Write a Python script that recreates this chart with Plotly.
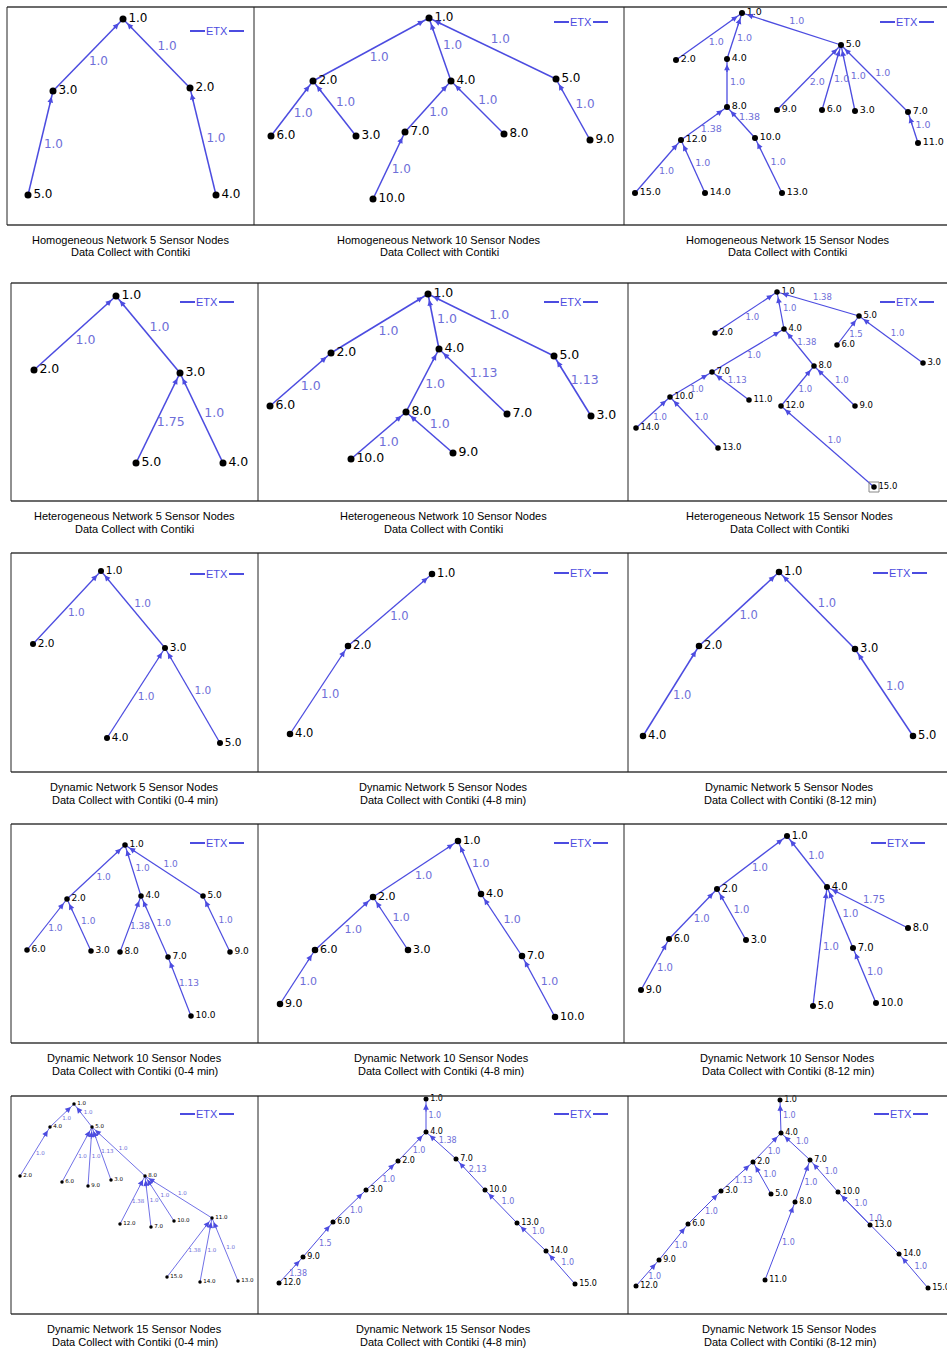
import math
import plotly.graph_objects as go

W, H = 947, 1349

# ---------------------------------------------------------------------------
# Collection trees (node name, canvas position, parent link with ETX metric)
# ---------------------------------------------------------------------------

# Homogeneous network, 5 sensor nodes
H5_NODES = ["1.0", "3.0", "2.0", "5.0", "4.0"]
H5_X = [116, 46, 183, 21, 209]
H5_Y = [12, 84, 81, 188, 188]
H5_CHILD = ["3.0", "2.0", "5.0", "4.0"]
H5_PARENT = ["1.0", "1.0", "3.0", "2.0"]
H5_ETX = [1.0, 1.0, 1.0, 1.0]

# Homogeneous network, 10 sensor nodes
H10_NODES = ["1.0", "2.0", "4.0", "5.0", "6.0", "3.0", "7.0", "8.0", "9.0", "10.0"]
H10_X = [175, 59, 197, 302, 17, 102, 151, 250, 336, 119]
H10_Y = [11, 74, 74, 72, 129, 129, 125, 127, 133, 192]
H10_CHILD = ["2.0", "4.0", "5.0", "6.0", "3.0", "7.0", "8.0", "9.0", "10.0"]
H10_PARENT = ["1.0", "1.0", "1.0", "2.0", "2.0", "4.0", "4.0", "5.0", "7.0"]
H10_ETX = [1.0, 1.0, 1.0, 1.0, 1.0, 1.0, 1.0, 1.0, 1.0]

# Homogeneous network, 15 sensor nodes
H15_NODES = ["1.0", "2.0", "4.0", "5.0", "8.0", "9.0", "6.0", "3.0", "7.0", "11.0",
             "12.0", "10.0", "15.0", "14.0", "13.0"]
H15_X = [118, 52, 103, 217, 103, 153, 198, 231, 284, 294, 57, 131, 11, 81, 158]
H15_Y = [6, 53, 52, 38, 100, 103, 103, 104, 105, 136, 133, 131, 186, 186, 186]
H15_CHILD = ["2.0", "4.0", "5.0", "8.0", "9.0", "6.0", "3.0", "7.0", "11.0", "12.0",
             "10.0", "15.0", "14.0", "13.0"]
H15_PARENT = ["1.0", "1.0", "1.0", "4.0", "5.0", "5.0", "5.0", "5.0", "7.0", "8.0",
              "8.0", "12.0", "12.0", "10.0"]
H15_ETX = [1.0, 1.0, 1.0, 1.0, 2.0, 1.0, 1.0, 1.0, 1.0, 1.38, 1.38, 1.0, 1.0, 1.0]

# Heterogeneous network, 5 sensor nodes
HE5_NODES = ["1.0", "2.0", "3.0", "5.0", "4.0"]
HE5_X = [105, 23, 169, 125, 212]
HE5_Y = [13, 87, 90, 180, 180]
HE5_CHILD = ["2.0", "3.0", "5.0", "4.0"]
HE5_PARENT = ["1.0", "1.0", "3.0", "3.0"]
HE5_ETX = [1.0, 1.0, 1.75, 1.0]

# Heterogeneous network, 10 sensor nodes
HE10_NODES = ["1.0", "2.0", "4.0", "5.0", "6.0", "8.0", "7.0", "3.0", "10.0", "9.0"]
HE10_X = [170, 73, 181, 296, 12, 148, 249, 333, 93, 195]
HE10_Y = [11, 70, 66, 73, 123, 129, 131, 133, 176, 170]
HE10_CHILD = ["2.0", "4.0", "5.0", "6.0", "8.0", "7.0", "3.0", "10.0", "9.0"]
HE10_PARENT = ["1.0", "1.0", "1.0", "2.0", "4.0", "4.0", "5.0", "8.0", "8.0"]
HE10_ETX = [1.0, 1.0, 1.0, 1.0, 1.0, 1.13, 1.13, 1.0, 1.0]

# Heterogeneous network, 15 sensor nodes
HE15_NODES = ["1.0", "2.0", "4.0", "5.0", "6.0", "3.0", "7.0", "8.0", "10.0", "11.0",
              "12.0", "9.0", "14.0", "13.0", "15.0"]
HE15_X = [149, 87, 156, 231, 209, 295, 84, 186, 42, 121, 153, 227, 8, 90, 246]
HE15_Y = [9, 50, 46, 33, 62, 80, 89, 83, 114, 117, 123, 123, 145, 165, 204]
HE15_CHILD = ["2.0", "4.0", "5.0", "6.0", "3.0", "7.0", "8.0", "10.0", "11.0", "12.0",
              "9.0", "14.0", "13.0", "15.0"]
HE15_PARENT = ["1.0", "1.0", "1.0", "5.0", "5.0", "4.0", "4.0", "7.0", "7.0", "8.0",
               "8.0", "10.0", "10.0", "12.0"]
HE15_ETX = [1.0, 1.0, 1.38, 1.5, 1.0, 1.0, 1.38, 1.0, 1.13, 1.0, 1.0, 1.0, 1.0, 1.0]
HE15_SELECTED = ["15.0"]

# Dynamic network, 5 sensor nodes (0-4, 4-8, 8-12 min)
D5A_NODES = ["1.0", "2.0", "3.0", "4.0", "5.0"]
D5A_X = [90, 22, 154, 96, 209]
D5A_Y = [18, 91, 95, 185, 190]
D5A_CHILD = ["2.0", "3.0", "4.0", "5.0"]
D5A_PARENT = ["1.0", "1.0", "3.0", "3.0"]
D5A_ETX = [1.0, 1.0, 1.0, 1.0]

D5B_NODES = ["1.0", "2.0", "4.0"]
D5B_X = [174, 90, 32]
D5B_Y = [21, 93, 181]
D5B_CHILD = ["2.0", "4.0"]
D5B_PARENT = ["1.0", "2.0"]
D5B_ETX = [1.0, 1.0]

D5C_NODES = ["1.0", "2.0", "3.0", "4.0", "5.0"]
D5C_X = [151, 71, 227, 15, 285]
D5C_Y = [19, 93, 96, 183, 183]
D5C_CHILD = ["2.0", "3.0", "4.0", "5.0"]
D5C_PARENT = ["1.0", "1.0", "2.0", "3.0"]
D5C_ETX = [1.0, 1.0, 1.0, 1.0]

# Dynamic network, 10 sensor nodes
D10A_NODES = ["1.0", "2.0", "4.0", "5.0", "6.0", "3.0", "8.0", "7.0", "9.0", "10.0"]
D10A_X = [114, 56, 130, 192, 16, 80, 109, 157, 219, 180]
D10A_Y = [21, 75, 72, 72, 126, 127, 128, 133, 128, 192]
D10A_CHILD = ["2.0", "4.0", "5.0", "6.0", "3.0", "8.0", "7.0", "9.0", "10.0"]
D10A_PARENT = ["1.0", "1.0", "1.0", "2.0", "2.0", "4.0", "4.0", "5.0", "7.0"]
D10A_ETX = [1.0, 1.0, 1.0, 1.0, 1.0, 1.38, 1.0, 1.0, 1.13]

D10B_NODES = ["1.0", "2.0", "4.0", "6.0", "3.0", "7.0", "9.0", "10.0"]
D10B_X = [200, 115, 223, 57, 150, 264, 22, 297]
D10B_Y = [17, 73, 70, 126, 126, 132, 180, 193]
D10B_CHILD = ["2.0", "4.0", "6.0", "3.0", "7.0", "9.0", "10.0"]
D10B_PARENT = ["1.0", "1.0", "2.0", "2.0", "4.0", "6.0", "7.0"]
D10B_ETX = [1.0, 1.0, 1.0, 1.0, 1.0, 1.0, 1.0]

D10C_NODES = ["1.0", "2.0", "4.0", "6.0", "3.0", "8.0", "7.0", "9.0", "5.0", "10.0"]
D10C_X = [163, 93, 203, 45, 122, 284, 229, 17, 189, 252]
D10C_Y = [12, 65, 63, 115, 116, 104, 124, 166, 182, 179]
D10C_CHILD = ["2.0", "4.0", "6.0", "3.0", "9.0", "5.0", "7.0", "8.0", "10.0"]
D10C_PARENT = ["1.0", "1.0", "2.0", "2.0", "6.0", "4.0", "4.0", "4.0", "7.0"]
D10C_ETX = [1.0, 1.0, 1.0, 1.0, 1.0, 1.0, 1.0, 1.75, 1.0]

# Dynamic network, 15 sensor nodes
D15A_NODES = ["1.0", "4.0", "5.0", "2.0", "6.0", "9.0", "3.0", "8.0", "12.0", "7.0",
              "10.0", "11.0", "15.0", "14.0", "13.0"]
D15A_X = [63, 39, 81, 9, 51, 77, 100, 134, 109, 140, 163, 201, 156, 189, 227]
D15A_Y = [8, 31, 31, 80, 86, 90, 84, 80, 128, 131, 125, 122, 181, 186, 185]
D15A_CHILD = ["4.0", "5.0", "2.0", "6.0", "9.0", "3.0", "8.0", "12.0", "7.0", "10.0",
              "11.0", "15.0", "14.0", "13.0"]
D15A_PARENT = ["1.0", "1.0", "4.0", "5.0", "5.0", "5.0", "5.0", "8.0", "8.0", "8.0",
               "8.0", "11.0", "11.0", "11.0"]
D15A_ETX = [1.0, 1.0, 1.0, 1.0, 1.0, 1.13, 1.0, 1.38, 1.0, 1.0, 1.0, 1.38, 1.0, 1.0]

D15B_NODES = ["1.0", "4.0", "2.0", "7.0", "3.0", "10.0", "6.0", "13.0", "9.0", "14.0",
              "12.0", "15.0"]
D15B_X = [168, 168, 140, 198, 108, 227, 75, 259, 45, 288, 21, 317]
D15B_Y = [3, 36, 65, 63, 94, 94, 126, 127, 161, 155, 187, 188]
D15B_CHILD = ["4.0", "2.0", "7.0", "3.0", "6.0", "9.0", "12.0", "10.0", "13.0", "14.0",
              "15.0"]
D15B_PARENT = ["1.0", "4.0", "4.0", "2.0", "3.0", "6.0", "9.0", "7.0", "10.0", "13.0",
               "14.0"]
D15B_ETX = [1.0, 1.0, 1.38, 1.0, 1.0, 1.5, 1.38, 2.13, 1.0, 1.0, 1.0]

D15C_NODES = ["1.0", "4.0", "2.0", "7.0", "3.0", "5.0", "8.0", "10.0", "6.0", "13.0",
              "9.0", "14.0", "12.0", "11.0", "15.0"]
D15C_X = [152, 153, 125, 182, 93, 143, 167, 210, 60, 242, 31, 271, 8, 137, 300]
D15C_Y = [4, 37, 66, 64, 95, 98, 106, 96, 128, 129, 164, 158, 190, 184, 192]
D15C_CHILD = ["4.0", "2.0", "7.0", "3.0", "5.0", "8.0", "10.0", "6.0", "9.0", "12.0",
              "11.0", "13.0", "14.0", "15.0"]
D15C_PARENT = ["1.0", "4.0", "4.0", "2.0", "2.0", "7.0", "7.0", "3.0", "6.0", "9.0",
               "8.0", "10.0", "10.0", "14.0"]
D15C_ETX = [1.0, 1.0, 1.0, 1.13, 1.0, 1.0, 1.0, 1.0, 1.0, 1.0, 1.0, 1.0, 1.0, 1.0]

# Captions
CAPTION_TOP = [
    "Homogeneous Network 5 Sensor Nodes", "Homogeneous Network 10 Sensor Nodes",
    "Homogeneous Network 15 Sensor Nodes",
    "Heterogeneous Network 5 Sensor Nodes", "Heterogeneous Network 10 Sensor Nodes",
    "Heterogeneous Network 15 Sensor Nodes",
    "Dynamic Network 5 Sensor Nodes", "Dynamic Network 5 Sensor Nodes",
    "Dynamic Network 5 Sensor Nodes",
    "Dynamic Network 10 Sensor Nodes", "Dynamic Network 10 Sensor Nodes",
    "Dynamic Network 10 Sensor Nodes",
    "Dynamic Network 15 Sensor Nodes", "Dynamic Network 15 Sensor Nodes",
    "Dynamic Network 15 Sensor Nodes",
]
CAPTION_BOTTOM = (
    ["Data Collect with Contiki"] * 6
    + ["Data Collect with Contiki (0-4 min)", "Data Collect with Contiki (4-8 min)",
       "Data Collect with Contiki (8-12 min)"] * 3
)

LEGEND_LABEL = "ETX"

# ---------------------------------------------------------------------------
# Page layout
# ---------------------------------------------------------------------------
# row: (top, bottom, left edge, column dividers)
ROWS = [
    (7, 225, 7, [254, 624]),
    (283, 501, 11, [258, 628]),
    (553, 772, 11, [258, 628]),
    (824, 1043, 11, [258, 624]),
    (1096, 1314, 11, [258, 628]),
]

NETWORKS = [
    (H5_NODES, H5_X, H5_Y, H5_CHILD, H5_PARENT, H5_ETX),
    (H10_NODES, H10_X, H10_Y, H10_CHILD, H10_PARENT, H10_ETX),
    (H15_NODES, H15_X, H15_Y, H15_CHILD, H15_PARENT, H15_ETX),
    (HE5_NODES, HE5_X, HE5_Y, HE5_CHILD, HE5_PARENT, HE5_ETX),
    (HE10_NODES, HE10_X, HE10_Y, HE10_CHILD, HE10_PARENT, HE10_ETX),
    (HE15_NODES, HE15_X, HE15_Y, HE15_CHILD, HE15_PARENT, HE15_ETX),
    (D5A_NODES, D5A_X, D5A_Y, D5A_CHILD, D5A_PARENT, D5A_ETX),
    (D5B_NODES, D5B_X, D5B_Y, D5B_CHILD, D5B_PARENT, D5B_ETX),
    (D5C_NODES, D5C_X, D5C_Y, D5C_CHILD, D5C_PARENT, D5C_ETX),
    (D10A_NODES, D10A_X, D10A_Y, D10A_CHILD, D10A_PARENT, D10A_ETX),
    (D10B_NODES, D10B_X, D10B_Y, D10B_CHILD, D10B_PARENT, D10B_ETX),
    (D10C_NODES, D10C_X, D10C_Y, D10C_CHILD, D10C_PARENT, D10C_ETX),
    (D15A_NODES, D15A_X, D15A_Y, D15A_CHILD, D15A_PARENT, D15A_ETX),
    (D15B_NODES, D15B_X, D15B_Y, D15B_CHILD, D15B_PARENT, D15B_ETX),
    (D15C_NODES, D15C_X, D15C_Y, D15C_CHILD, D15C_PARENT, D15C_ETX),
]

# per canvas: label font, dot size, link width, legend centre (canvas units)
STYLES = [
    dict(fs=12, ms=7, lw=1.5, leg=(210, 24)),
    dict(fs=12, ms=7, lw=1.5, leg=(327, 15)),
    dict(fs=9.5, ms=6, lw=1.3, leg=(283, 15)),
    dict(fs=12.5, ms=7, lw=1.6, leg=(196, 19)),
    dict(fs=12.5, ms=7, lw=1.6, leg=(313, 19)),
    dict(fs=8.5, ms=5.5, lw=1.2, leg=(279, 19)),
    dict(fs=10.5, ms=6, lw=1.3, leg=(206, 21)),
    dict(fs=11.5, ms=6.5, lw=1.3, leg=(323, 20)),
    dict(fs=11.5, ms=6.5, lw=1.5, leg=(272, 20)),
    dict(fs=9, ms=5.5, lw=1.2, leg=(206, 19)),
    dict(fs=11, ms=6.5, lw=1.3, leg=(323, 19)),
    dict(fs=10, ms=6, lw=1.3, leg=(274, 19)),
    dict(fs=5.5, ms=3.5, lw=0.8, leg=(196, 18)),
    dict(fs=8, ms=5, lw=1.0, leg=(323, 18)),
    dict(fs=8, ms=5, lw=1.0, leg=(273, 18)),
]

LINK = "#4c4ce0"
LINK_TEXT = "#6e6ed8"
FRAME = "#3a3a3a"
NODE_FONT = "DejaVu Sans, Verdana, sans-serif"
CAPTION_FONT = "Liberation Sans, Arial, Helvetica, sans-serif"

fig = go.Figure()
annotations = []
shapes = []
layout_axes = {}


def px(x):
    return x / W


def py(y):
    return 1 - y / H


k = 0
for r, (top, bottom, left, dividers) in enumerate(ROWS):
    edges = [left] + dividers + [W]
    # frame of the row
    shapes.append(dict(type="line", xref="paper", yref="paper", x0=px(left), x1=1,
                       y0=py(top), y1=py(top), line=dict(color=FRAME, width=1.6)))
    shapes.append(dict(type="line", xref="paper", yref="paper", x0=px(left), x1=1,
                       y0=py(bottom), y1=py(bottom), line=dict(color=FRAME, width=1.6)))
    for xv in [left] + dividers:
        shapes.append(dict(type="line", xref="paper", yref="paper", x0=px(xv), x1=px(xv),
                           y0=py(top), y1=py(bottom), line=dict(color="#222222", width=1)))

    for c in range(3):
        x0c, x1c = edges[c], edges[c + 1]
        nodes, xs, ys, child, parent, etx = NETWORKS[k]
        st = STYLES[k]
        k += 1
        sfx = "" if k == 1 else str(k)
        xa, ya = "x" + sfx, "y" + sfx
        layout_axes["xaxis" + sfx] = dict(domain=[px(x0c), px(x1c)], range=[0, x1c - x0c],
                                          visible=False, fixedrange=True, anchor=ya)
        layout_axes["yaxis" + sfx] = dict(domain=[py(bottom), py(top)], range=[bottom - top, 0],
                                          visible=False, fixedrange=True, anchor=xa)
        pos = {n: (x, y) for n, x, y in zip(nodes, xs, ys)}

        # links
        lx, ly, tx, ty, tt = [], [], [], [], []
        fs = st["fs"]
        for ch, pa, v in zip(child, parent, etx):
            cx, cy = pos[ch]
            qx, qy = pos[pa]
            lx += [cx, qx, None]
            ly += [cy, qy, None]
            dx, dy = qx - cx, qy - cy
            d = math.hypot(dx, dy)
            ux, uy = dx / d, dy / d
            nx, ny = -uy, ux
            if nx < 0 or (abs(nx) < 1e-9 and ny > 0):
                nx, ny = -nx, -ny
            mx, my = (cx + qx) / 2, (cy + qy) / 2
            tx.append(mx + nx * 0.8 * fs + 0.3 * fs)
            ty.append(my + ny * 0.8 * fs)
            tt.append(str(v))
            # arrowhead just short of the parent node
            gap = st["ms"] * 0.5 + 2.5
            annotations.append(dict(
                x=qx - ux * gap, y=qy - uy * gap, xref=xa, yref=ya,
                ax=-ux * 9, ay=-uy * 9, text="", showarrow=True,
                arrowhead=2, arrowsize=1.15 / st["lw"], arrowwidth=st["lw"],
                arrowcolor=LINK))
        fig.add_trace(go.Scatter(x=lx, y=ly, xaxis=xa, yaxis=ya, mode="lines",
                                 line=dict(color=LINK, width=st["lw"]),
                                 hoverinfo="skip", showlegend=False))
        fig.add_trace(go.Scatter(x=tx, y=ty, xaxis=xa, yaxis=ya, mode="text", text=tt,
                                 textfont=dict(color=LINK_TEXT, size=fs, family=NODE_FONT),
                                 hoverinfo="skip", showlegend=False, cliponaxis=False))
        # nodes
        fig.add_trace(go.Scatter(x=xs, y=ys, xaxis=xa, yaxis=ya, mode="markers+text",
                                 text=nodes, textposition="middle right",
                                 textfont=dict(color="black", size=fs, family=NODE_FONT),
                                 marker=dict(color="black", size=st["ms"]),
                                 hoverinfo="skip", showlegend=False, cliponaxis=False))
        if nodes is HE15_NODES:
            sel = [pos[n] for n in HE15_SELECTED]
            fig.add_trace(go.Scatter(x=[p[0] for p in sel], y=[p[1] for p in sel],
                                     xaxis=xa, yaxis=ya, mode="markers",
                                     marker=dict(symbol="square-open", size=10,
                                                 color="#888888", line=dict(width=1)),
                                     hoverinfo="skip", showlegend=False))

        # legend key: line - ETX - line
        ex, ey = st["leg"]
        for a, b in ((ex - 27, ex - 12), (ex + 12, ex + 27)):
            shapes.append(dict(type="line", xref=xa, yref=ya, x0=a, x1=b, y0=ey, y1=ey,
                               line=dict(color=LINK, width=2)))
        annotations.append(dict(x=ex, y=ey, xref=xa, yref=ya, text=LEGEND_LABEL,
                                showarrow=False,
                                font=dict(color=LINK, size=11, family=CAPTION_FONT)))

        # caption
        cxp = (x0c + x1c) / 2 + (2 if c == 2 else 0)
        for line_txt, off in ((CAPTION_TOP[k - 1], 14.5), (CAPTION_BOTTOM[k - 1], 27.5)):
            annotations.append(dict(x=px(cxp), y=py(bottom + off), xref="paper", yref="paper",
                                    text=line_txt, showarrow=False, xanchor="center",
                                    yanchor="middle",
                                    font=dict(color="black", size=11, family=CAPTION_FONT)))

fig.update_layout(
    width=W, height=H, autosize=False,
    margin=dict(l=0, r=0, t=0, b=0),
    paper_bgcolor="white", plot_bgcolor="white",
    showlegend=False,
    annotations=annotations, shapes=shapes,
    **layout_axes,
)

fig.write_html("out.html", config={"displayModeBar": False})
